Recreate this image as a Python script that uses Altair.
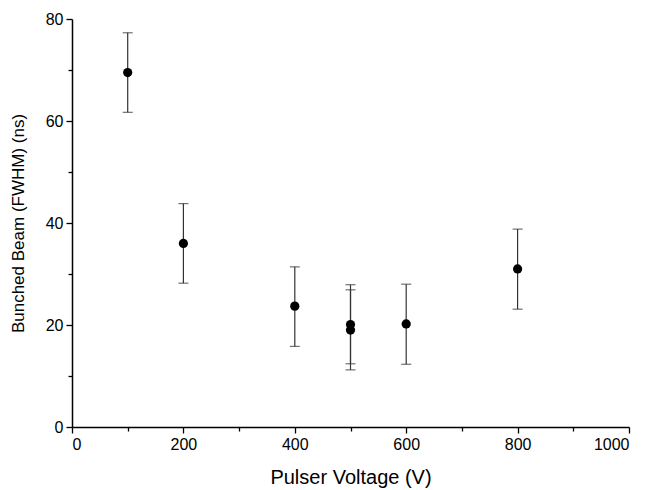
import altair as alt
import pandas as pd

voltage = [100, 200, 400, 500, 500, 600, 800]
fwhm = [69.5, 36.0, 23.7, 20.1, 19.0, 20.2, 31.0]
err_low = [61.7, 28.2, 15.8, 12.4, 11.2, 12.3, 23.1]
err_high = [77.3, 43.8, 31.4, 27.9, 26.9, 28.0, 38.8]

df = pd.DataFrame({"v": voltage, "f": fwhm, "lo": err_low, "hi": err_high})

FONT = "Liberation Sans"

x_enc = alt.X(
    "v:Q",
    scale=alt.Scale(domain=[0, 1000], nice=False, zero=False),
    axis=alt.Axis(
        title="Pulser Voltage (V)",
        titleFontSize=20,
        values=list(range(0, 1001, 100)),
        format="d",
        labelExpr="datum.value % 200 === 0 ? datum.label : ''",
        tickSize={"condition": {"test": "datum.value % 200 === 0", "value": 6}, "value": 4},
        grid=False,
        titlePadding=15,
        labelPadding=3,
    ),
)
y_scale = alt.Scale(domain=[0, 80], nice=False, zero=False)
y_axis = alt.Axis(
    title="Bunched Beam (FWHM) (ns)",
    titleFontSize=17,
    values=list(range(0, 81, 10)),
    format="d",
    labelExpr="datum.value % 20 === 0 ? datum.label : ''",
    tickSize={"condition": {"test": "datum.value % 20 === 0", "value": 6}, "value": 4},
    grid=False,
    titlePadding=18,
    labelPadding=3,
)

base = alt.Chart(df)

rules = base.mark_rule(color="#333333", strokeWidth=1.2).encode(
    x=x_enc,
    y=alt.Y("lo:Q", scale=y_scale, axis=y_axis),
    y2="hi:Q",
)
cap_lo = base.mark_tick(color="#333333", thickness=1.2, size=10, orient="horizontal").encode(
    x="v:Q", y="lo:Q"
)
cap_hi = base.mark_tick(color="#333333", thickness=1.2, size=10, orient="horizontal").encode(
    x="v:Q", y="hi:Q"
)
pts = base.mark_circle(color="black", opacity=1, size=85).encode(x="v:Q", y="f:Q")

chart = (
    alt.layer(rules, cap_lo, cap_hi, pts)
    .properties(
        width=557,
        height=408,
        autosize=alt.AutoSizeParams(type="none"),
        padding={"left": 64, "top": 11, "right": 10, "bottom": 62},
    )
    .configure_view(stroke=None)
    .configure_axis(
        domainColor="black",
        domainWidth=1.5,
        tickColor="black",
        tickWidth=1.3,
        labelFont=FONT,
        labelFontSize=16,
        labelColor="black",
        titleFont=FONT,
        titleFontWeight="normal",
        titleColor="black",
    )
)

chart.save("out.html", embed_options={"renderer": "svg", "actions": False})
